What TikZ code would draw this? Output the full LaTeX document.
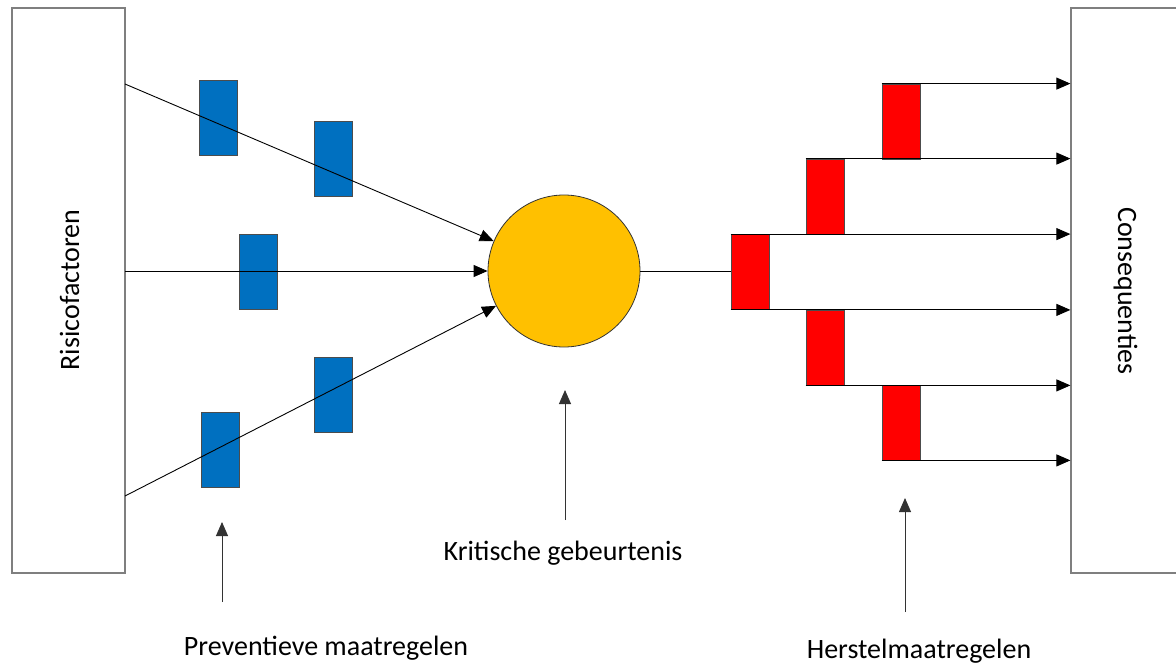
\documentclass[tikz,border=0pt]{standalone}
\usepackage{fontspec}
\setmainfont{Carlito}
\usetikzlibrary{arrows.meta}
\definecolor{barrierblue}{HTML}{0070C0}
\definecolor{barrierred}{HTML}{FF0000}
\definecolor{eventyellow}{HTML}{FFC000}
\definecolor{framegray}{HTML}{7F7F7F}
\begin{document}
\begin{tikzpicture}[x=1pt,y=-1pt,
  every node/.style={font=\fontsize{28}{32}\selectfont},
  sidebox/.style={draw=framegray,line width=1.2pt,fill=white,minimum width=113pt,minimum height=565pt,inner sep=0pt},
  prevbar/.style={draw=black!70,line width=0.8pt,fill=barrierblue,minimum width=38pt,minimum height=75pt,inner sep=0pt},
  recbar/.style={draw=black!70,line width=0.8pt,fill=barrierred,minimum width=38pt,minimum height=75pt,inner sep=0pt},
  flow/.style={draw=black,line width=0.9pt},
  tip/.style={-{Triangle[length=14pt,width=12pt]}},
  pointer/.style={draw=black!80,line width=0.9pt,-{Triangle[length=14pt,width=12pt]}},
  caption/.style={inner sep=0pt,anchor=base}
]
\useasboundingbox (0,0) rectangle (1176,664);

% side boxes
\node[sidebox] (risk) at (68.5,290.5) {};
\node[rotate=90,anchor=base] at (79,290) {Risicofactoren};
\node[sidebox] (cons) at (1127.5,290.5) {};
\node[rotate=-90,anchor=base] at (1118,291) {Consequenties};

% critical event
\node[circle,draw=black!80,line width=0.8pt,fill=eventyellow,minimum size=152pt,inner sep=0pt] (crit) at (564,271) {};

% preventive barriers
\node[prevbar] (p1) at (218,117.5) {};
\node[prevbar] (p2) at (333,159) {};
\node[prevbar] (p3) at (258,272) {};
\node[prevbar] (p4) at (333,395) {};
\node[prevbar] (p5) at (220,449.5) {};

% risk factor lines into the event
\coordinate (s1) at (125,84);
\coordinate (s2) at (125,271);
\coordinate (s3) at (125,496);
\draw[flow,tip] (s1) -- (crit);
\draw[flow,tip] (s2) -- (crit);
\draw[flow,tip] (s3) -- (crit);

% recovery barriers
\node[recbar] (r1) at (750,272) {};
\node[recbar] (r2) at (825,196.5) {};
\node[recbar] (r3) at (825,347.5) {};
\node[recbar] (r4) at (901,121.5) {};
\node[recbar] (r5) at (901,422.5) {};

\draw[flow] (crit.east) -- (crit.east -| r1.west);

% consequence lines
\draw[flow,tip] (r4.north west) -- (r4.north west -| cons.west);
\draw[flow,tip] (r2.north west) -- (r2.north west -| cons.west);
\draw[flow,tip] (r1.north west) -- (r1.north west -| cons.west);
\draw[flow,tip] (r1.south west) -- (r1.south west -| cons.west);
\draw[flow,tip] (r3.south west) -- (r3.south west -| cons.west);
\draw[flow,tip] (r5.south west) -- (r5.south west -| cons.west);

% captions with pointers
\node[caption] (lprev) at (326,655) {Preventieve maatregelen};
\node[caption] (lcrit) at (563,560) {Kritische gebeurtenis};
\node[caption] (lrec) at (919,658) {Herstelmaatregelen};
\coordinate (a1) at (222,602);
\coordinate (a2) at (565,520);
\coordinate (a3) at (905,612);
\draw[pointer] (a1) -- (222,522);
\draw[pointer] (a2) -- (565,390);
\draw[pointer] (a3) -- (905,498);
\end{tikzpicture}
\end{document}
